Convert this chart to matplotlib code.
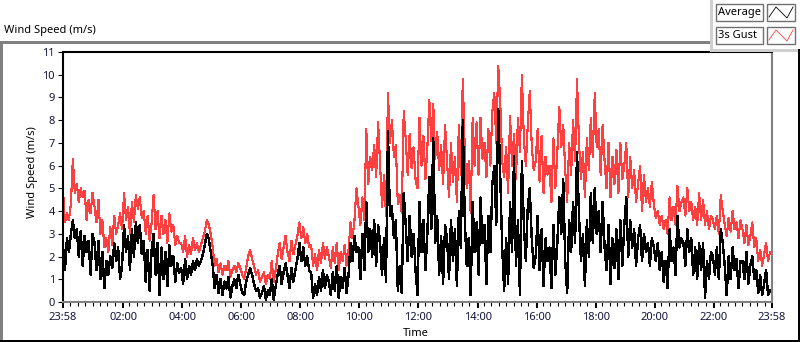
import numpy as np
import matplotlib
matplotlib.use("Agg")
import matplotlib.pyplot as plt
from matplotlib.lines import Line2D
from matplotlib.patches import Rectangle

# ---------------- data (4-minute samples from 23:58) -------------
gust = [
    4.9, 3.5, 3.9, 3.6, 4.3, 6.3, 4.8, 5.2, 4.4, 5.0, 4.6, 4.9, 3.6, 4.5, 3.9,
    4.8, 4.2, 3.5, 4.5, 3.0, 3.6, 2.4, 2.8, 2.2, 3.3, 2.5, 3.8, 3.0, 3.4, 3.9,
    3.2, 4.8, 3.6, 4.2, 3.0, 4.4, 3.5, 4.7, 4.1, 4.6, 3.7, 4.0, 3.0, 3.8, 2.7,
    3.5, 4.7, 3.2, 4.0, 2.8, 3.8, 3.0, 3.6, 2.6, 3.9, 3.1, 3.4, 2.5, 2.9, 2.6,
    2.6, 2.2, 2.9, 2.0, 2.5, 2.1, 2.8, 2.3, 2.6, 2.2, 2.5, 2.8, 3.1, 3.6, 3.4,
    3.0, 2.4, 1.6, 1.9, 1.3, 1.7, 1.2, 1.6, 1.4, 1.8, 1.1, 1.4, 1.6, 1.3, 1.7,
    1.5, 1.2, 1.0, 1.5, 2.0, 2.3, 1.9, 1.6, 1.2, 1.4, 0.9, 1.1, 1.3, 0.8, 1.2,
    1.0, 1.8, 0.9, 1.4, 2.1, 2.6, 1.9, 2.4, 2.9, 2.2, 1.8, 2.7, 2.1, 2.5, 2.9,
    3.5, 2.8, 3.3, 2.6, 3.0, 2.4, 2.5, 1.6, 2.1, 1.4, 2.3, 1.7, 2.6, 1.9, 2.4,
    2.0, 1.5, 2.4, 1.7, 2.6, 1.4, 2.2, 1.8, 2.5, 1.6, 2.3, 3.5, 2.8, 3.6, 5.0,
    4.2, 3.4, 4.6, 3.6, 7.6, 5.2, 6.4, 5.8, 6.9, 5.5, 7.9, 6.1, 4.2, 5.6, 3.8,
    9.2, 7.0, 8.0, 6.4, 6.9, 4.3, 4.7, 3.9, 8.4, 7.2, 5.6, 7.4, 5.9, 6.8, 5.4,
    5.0, 8.1, 6.0, 7.3, 5.4, 6.8, 8.9, 7.1, 8.7, 6.3, 7.5, 5.8, 6.9, 5.2, 7.8,
    6.2, 4.6, 7.0, 5.3, 6.4, 4.4, 7.8, 5.6, 9.8, 6.7, 5.0, 6.2, 3.9, 8.1, 6.0,
    7.9, 5.6, 8.1, 6.3, 7.0, 5.5, 7.6, 6.0, 8.4, 9.2, 7.0, 10.4, 8.8, 6.2, 5.5,
    6.8, 4.8, 8.2, 6.0, 7.4, 5.4, 8.1, 6.6, 10.0, 7.2, 6.0, 7.8, 9.3, 6.9, 5.8,
    6.2, 7.6, 5.3, 7.3, 4.8, 6.4, 5.6, 6.0, 4.4, 7.2, 5.0, 6.6, 8.6, 6.8, 7.8,
    5.8, 4.4, 7.0, 5.6, 8.0, 6.2, 9.8, 7.0, 5.4, 6.6, 4.6, 7.2, 5.8, 8.1, 6.4,
    9.2, 6.8, 7.6, 5.6, 7.8, 6.2, 5.0, 7.0, 4.6, 6.4, 5.2, 6.7, 4.8, 7.0, 5.4,
    6.0, 7.0, 4.6, 6.4, 5.0, 5.8, 4.4, 5.2, 6.0, 4.0, 5.6, 4.4, 5.0, 4.2, 5.3,
    4.3, 3.7, 4.0, 3.4, 3.8, 3.2, 3.6, 3.0, 4.6, 3.6, 4.2, 3.4, 5.1, 4.0, 4.4,
    4.6, 3.8, 5.0, 4.0, 4.4, 3.6, 4.2, 3.4, 4.8, 3.6, 4.5, 3.4, 4.0, 3.2, 3.8,
    3.6, 3.2, 3.8, 3.0, 4.7, 4.0, 3.4, 2.9, 3.7, 3.1, 4.0, 3.2, 3.5, 2.8, 3.6,
    3.2, 2.6, 3.4, 2.5, 2.9, 3.5, 2.4, 2.8, 1.8, 2.3, 1.6, 2.1, 2.6, 1.8, 2.2,
]
average = [
    2.5, 1.4, 2.8, 2.2, 3.0, 3.6, 2.8, 3.2, 2.0, 3.1, 1.6, 2.9, 2.2, 2.7, 1.2,
    3.0, 2.6, 1.4, 2.7, 1.0, 2.2, 0.6, 1.8, 1.2, 2.0, 1.5, 2.6, 1.8, 2.4, 1.0,
    1.6, 3.4, 2.2, 2.9, 1.4, 3.2, 2.0, 3.5, 2.6, 3.4, 2.1, 2.7, 0.9, 2.3, 0.5,
    2.3, 3.0, 1.2, 2.6, 0.3, 2.4, 1.0, 2.2, 0.7, 2.5, 1.6, 2.0, 0.9, 1.7, 1.3,
    1.5, 0.8, 1.9, 1.0, 1.6, 1.2, 1.8, 1.4, 1.9, 1.6, 1.8, 2.1, 2.5, 3.0, 2.8,
    2.2, 1.6, 0.6, 1.2, 0.4, 1.0, 0.3, 0.9, 0.6, 1.1, 0.2, 0.7, 1.0, 0.6, 1.2,
    0.8, 0.4, 0.3, 0.9, 1.2, 1.5, 1.2, 0.8, 0.5, 0.6, 0.2, 0.4, 0.7, 0.1, 0.5,
    0.3, 1.0, 0.1, 0.7, 1.2, 1.6, 0.8, 1.3, 1.7, 1.2, 0.6, 1.5, 0.9, 1.4, 1.9,
    2.6, 1.8, 2.4, 1.6, 2.0, 1.4, 1.3, 0.2, 0.8, 0.3, 1.1, 0.5, 1.4, 0.6, 1.2,
    0.9, 0.3, 1.3, 0.5, 1.6, 0.2, 1.1, 0.6, 1.5, 0.4, 1.2, 2.6, 1.8, 2.9, 2.2,
    2.4, 1.0, 3.0, 1.4, 4.4, 2.2, 3.2, 2.0, 3.6, 1.6, 3.4, 2.6, 1.2, 2.8, 0.9,
    7.5, 3.8, 4.2, 2.8, 3.6, 0.5, 1.6, 0.4, 4.8, 3.4, 1.8, 3.8, 2.0, 3.0, 1.4,
    0.3, 4.4, 2.2, 3.6, 1.4, 3.0, 5.5, 3.2, 7.2, 2.6, 3.8, 1.2, 2.9, 0.8, 3.4,
    2.8, 1.0, 3.6, 1.8, 3.2, 0.7, 4.0, 2.4, 8.0, 3.6, 1.6, 2.8, 0.3, 4.4, 2.2,
    3.5, 1.2, 4.6, 2.6, 3.4, 0.8, 3.8, 2.2, 5.2, 6.0, 3.4, 8.5, 5.6, 2.4, 0.5,
    2.8, 0.8, 4.4, 2.2, 6.4, 1.6, 3.6, 0.3, 6.2, 3.4, 1.8, 4.2, 5.0, 2.8, 1.5,
    2.0, 3.8, 1.4, 3.2, 0.7, 2.8, 1.8, 2.4, 0.6, 3.4, 1.2, 2.6, 4.6, 3.0, 5.4,
    1.8, 0.4, 3.6, 2.2, 4.4, 2.6, 6.6, 3.8, 1.8, 3.0, 0.7, 3.6, 2.0, 4.8, 2.6,
    5.0, 3.0, 4.0, 2.2, 4.4, 2.4, 1.4, 3.4, 0.8, 2.8, 1.5, 3.2, 1.0, 3.6, 1.6,
    3.4, 4.6, 2.0, 3.6, 2.4, 3.2, 1.6, 2.8, 3.4, 1.8, 3.0, 2.2, 2.6, 1.6, 2.8,
    2.4, 1.8, 2.6, 1.4, 2.2, 0.9, 1.8, 0.6, 3.2, 1.8, 2.4, 1.2, 3.8, 2.4, 2.8,
    2.6, 1.6, 3.2, 2.2, 2.8, 1.2, 2.4, 1.0, 2.6, 1.4, 2.6, 0.2, 1.8, 1.0, 2.2,
    2.0, 1.2, 2.4, 1.0, 3.2, 2.6, 1.6, 0.3, 2.0, 1.0, 2.4, 1.4, 1.9, 0.6, 1.8,
    1.8, 1.0, 2.2, 0.8, 1.6, 2.0, 1.0, 1.4, 0.4, 1.2, 0.3, 0.8, 1.4, 0.3, 0.5,
]
sample_step_min = 4
x_tick_labels = ["23:58", "02:00", "04:00", "06:00", "08:00", "10:00", "12:00",
                 "14:00", "16:00", "18:00", "20:00", "22:00", "23:58"]
x_tick_minutes = [0, 122, 242, 362, 482, 602, 722, 842, 962, 1082, 1202, 1322, 1440]
y_ticks = list(range(0, 12))
series_names = ["Average", "3s Gust"]

# ---------------- figure -------------
W, H = 800, 342
plt.rcParams['font.family'] = ['Noto Sans', 'DejaVu Sans']
fig = plt.figure(figsize=(W / 100, H / 100), dpi=100)
fig.patch.set_facecolor("white")

def fx(px):
    return px / W

def fy(py):
    return 1 - py / H

ax = fig.add_axes([fx(63), fy(302), fx(772) - fx(63), fy(52) - fy(302)])

t = np.arange(len(gust)) * sample_step_min
RED = "#ff4040"
ax.plot(t, gust, color=RED, lw=0.8, antialiased=False, zorder=2)
ax.plot(t, average, color="black", lw=1.0, antialiased=False, zorder=3)

ax.set_xlim(0, 1440)
ax.set_ylim(0, 11)

TXT = "#14143c"
ax.set_yticks(y_ticks)
ax.set_yticklabels([str(v) for v in y_ticks], fontsize=8, color=TXT)
ax.set_xticks(x_tick_minutes)
ax.set_xticklabels(x_tick_labels, fontsize=8, color=TXT)
ax.set_xticks(np.arange(0, 1441, 15), minor=True)
ax.tick_params(axis="y", direction="out", length=3.8, width=0.8, pad=2, colors="black",
               labelcolor=TXT)
ax.tick_params(axis="x", which="major", direction="out", length=4.5, width=1.4, pad=3,
               colors="black", labelcolor=TXT)
ax.tick_params(axis="x", which="minor", direction="out", length=2.6, width=0.8, colors="black")

for side in ["top", "left"]:
    ax.spines[side].set_color("black")
    ax.spines[side].set_linewidth(1.5)
for side in ["bottom", "right"]:
    ax.spines[side].set_color("#808080")
    ax.spines[side].set_linewidth(1.5)

# axis labels
fig.text(fx(32), fy(172), "Wind Speed (m/s)", rotation=90, ha="center", va="center",
         fontsize=8, color="black")
fig.text(fx(416), fy(334), "Time", ha="center", va="center", fontsize=8, color="black")
fig.text(fx(4), fy(31), "Wind Speed (m/s)", ha="left", va="center", fontsize=8, color="black")

# outer frame lines
GRAY = "#808080"
def fline(xs, ys, color, lw=1.0, aa=False):
    fig.add_artist(Line2D([fx(v) for v in xs], [fy(v) for v in ys], color=color, lw=lw,
                          transform=fig.transFigure, antialiased=aa))

fline([0, 711], [42, 42], GRAY)
fline([0.5, 0.5], [42, 340], GRAY)
fline([711, 711], [0, 50], "#d0d0d0")
fline([711, 800], [50, 50], "#d0d0d0")
fline([0, 800], [340.5, 340.5], "black", 1.4)
fline([799, 799], [50, 341], "black", 1.4)

# legend boxes
def fbox(x0, y0, x1, y1):
    fig.add_artist(Rectangle((fx(x0), fy(y1)), fx(x1) - fx(x0), fy(y0) - fy(y1),
                             transform=fig.transFigure, facecolor="white",
                             edgecolor="#707070", lw=1.0))

legend_colors = ["black", RED]
for i, (name, col) in enumerate(zip(series_names, legend_colors)):
    y0 = 4 + i * 23
    y1 = y0 + 17
    fbox(716, y0, 763, y1)
    fbox(767, y0, 795, y1)
    fig.text(fx(718), fy((y0 + y1) / 2 + 0.5), name, ha="left", va="center",
             fontsize=8, color="black")
    zx = [769, 776, 787, 793]
    zy = [y1 - 4, y0 + 3, y1 - 3, y0 + 3]
    fline(zx, zy, col, 0.6, aa=True)

fig.savefig("out.png", dpi=100, facecolor="white")
